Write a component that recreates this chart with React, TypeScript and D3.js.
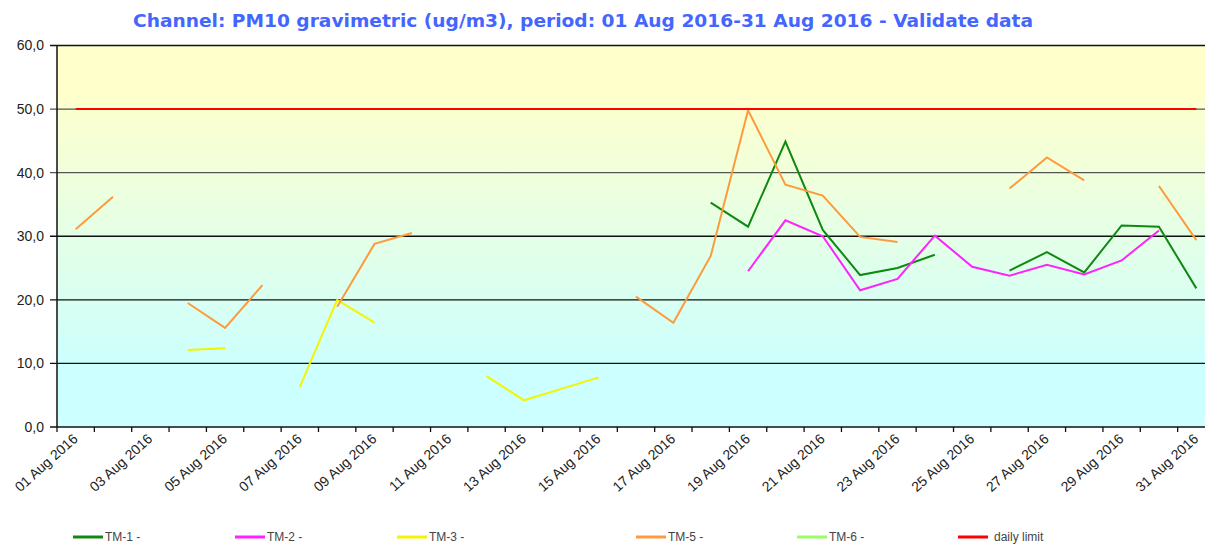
import React from 'react';
import * as d3 from 'd3';

const days: string[] = d3.range(1, 32).map(d => `${String(d).padStart(2, '0')} Aug 2016`);

type V = number | null;
const tm1: V[] = [null, null, null, null, null, null, null, null, null, null, null, null, null, null, null, null, null, 35.3, 31.5, 44.9, 31.0, 23.9, 25.0, 27.1, null, 24.6, 27.5, 24.3, 31.7, 31.5, 21.8];
const tm2: V[] = [null, null, null, null, null, null, null, null, null, null, null, null, null, null, null, null, null, null, 24.5, 32.5, 30.0, 21.5, 23.3, 30.1, 25.2, 23.8, 25.5, 24.0, 26.2, 30.9, null];
const tm3: V[] = [null, null, null, 12.1, 12.4, null, 6.3, 20.0, 16.4, null, null, 8.0, 4.2, 6.0, 7.8, null, null, null, null, null, null, null, null, null, null, null, null, null, null, null, null];
const tm5: V[] = [31.1, 36.2, null, 19.5, 15.6, 22.3, null, 18.9, 28.8, 30.5, null, null, null, null, null, 20.5, 16.4, 26.9, 49.8, 38.1, 36.4, 29.9, 29.1, null, null, 37.5, 42.4, 38.8, null, 37.9, 29.4];
const tm6: V[] = days.map(() => null);
const dailyLimit: V[] = days.map(() => 50);

const yTicks = [0, 10, 20, 30, 40, 50, 60];

const series = [
  { name: 'TM-1 -', color: '#118811', values: tm1 },
  { name: 'TM-2 -', color: '#ff22ff', values: tm2 },
  { name: 'TM-3 -', color: '#f4f400', values: tm3 },
  { name: 'TM-5 -', color: '#ff9a3c', values: tm5 },
  { name: 'TM-6 -', color: '#99ff66', values: tm6 },
  { name: 'daily limit', color: '#ff0000', values: dailyLimit },
];

export default function App() {
  const W = 1205, H = 544;
  const left = 57, top = 45.5, bottom = 427, right = 1215;

  const x = d3.scaleBand<string>().domain(days).range([left, right]);
  const cx = (d: string) => (x(d) as number) + x.bandwidth() / 2;
  const y = d3.scaleLinear().domain([0, 60]).range([bottom, top]);

  const line = d3.line<V>()
    .defined(v => v != null)
    .x((_, i) => cx(days[i]))
    .y(v => y(v as number));

  const boundaries = days.map(d => x(d) as number);
  // legend slots (TM-4 slot is left empty in the original)
  const legendX = [73, 235, 397, 636, 797, 958];

  return (
    <div style={{ position: 'absolute', left: 0, top: 0 }}>
      <svg width={W} height={H} style={{ display: 'block' }} fontFamily="Arial, 'Liberation Sans', sans-serif">
        <defs>
          <linearGradient id="bg" x1="0" y1="0" x2="0" y2="1">
            <stop offset="0%" stopColor="#ffffcc" />
            <stop offset="12%" stopColor="#ffffcc" />
            <stop offset="85%" stopColor="#ccffff" />
            <stop offset="100%" stopColor="#ccffff" />
          </linearGradient>
        </defs>

        <text x={583} y={27} textAnchor="middle" fontFamily="'DejaVu Sans', Verdana, sans-serif"
          fontWeight="bold" fontSize={17} fill="#4466ff" textLength={900} lengthAdjust="spacingAndGlyphs">
          Channel: PM10 gravimetric (ug/m3), period: 01 Aug 2016-31 Aug 2016 - Validate data
        </text>

        <rect x={left} y={top} width={right - left} height={bottom - top} fill="url(#bg)" />

        {yTicks.map(t => (
          <g key={t}>
            <line x1={left - 7} x2={right} y1={y(t)} y2={y(t)} stroke={t === 40 || t === 50 ? '#555' : '#111'} strokeWidth={1.3} />
            <text x={44} y={y(t)} dy="0.35em" textAnchor="end" fontSize={14} fill="#222">
              {d3.format('.1f')(t).replace('.', ',')}
            </text>
          </g>
        ))}

        <line x1={left} x2={left} y1={top} y2={bottom} stroke="#111" strokeWidth={1.5} />
        {boundaries.map((b, i) => (
          <line key={i} x1={b} x2={b} y1={bottom} y2={bottom + 5} stroke="#111" strokeWidth={1.3} />
        ))}

        {series.map(s => (
          <path key={s.name} d={line(s.values) || ''} fill="none" stroke={s.color} strokeWidth={2} />
        ))}

        {days.map((d, i) => i % 2 === 0 ? (
          <text key={d} transform={`translate(${cx(d) + 3},${440}) rotate(-42)`} textAnchor="end" fontSize={14} fill="#222">
            {d}
          </text>
        ) : null)}

        {series.map((s, i) => {
          const lx = legendX[i];
          return (
            <g key={s.name}>
              <line x1={lx} x2={lx + 30} y1={537} y2={537} stroke={s.color} strokeWidth={3} />
              <text x={s.name === 'daily limit' ? lx + 36 : lx + 32} y={541} fontSize={12} fill="#444">{s.name}</text>
            </g>
          );
        })}
      </svg>
    </div>
  );
}
